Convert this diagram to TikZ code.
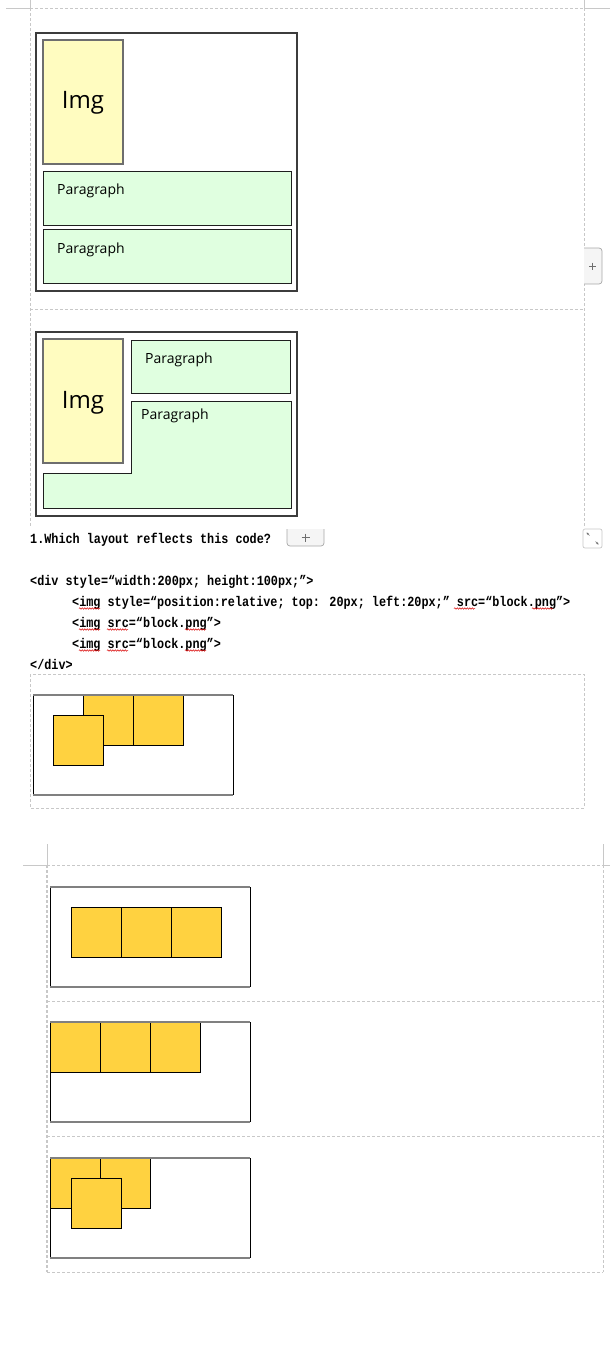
\documentclass[tikz,border=0pt]{standalone}
\usepackage{fontspec}
\setmainfont{Open Sans}
\newfontfamily\codefont{Liberation Mono}[FakeStretch=0.843]
\usetikzlibrary{decorations.pathmorphing,arrows.meta}
\definecolor{pagegrey}{RGB}{200,200,200}
\definecolor{imgc}{RGB}{255,252,192}
\definecolor{imgedge}{RGB}{110,110,110}
\definecolor{parc}{RGB}{224,255,224}
\definecolor{darkedge}{RGB}{60,60,60}
\definecolor{blockc}{RGB}{255,210,64}
\definecolor{contgrey}{RGB}{128,128,128}
\definecolor{btnfill}{RGB}{245,245,245}
\definecolor{btnedge}{RGB}{168,168,168}
\definecolor{plusgrey}{RGB}{110,110,110}
\tikzset{
  pagedash/.style={draw=pagegrey, line width=0.9pt, dash pattern=on 3pt off 2pt},
  pagesolid/.style={draw=pagegrey, line width=0.9pt},
  outerbox/.style={draw=darkedge, line width=1.2pt, fill=white},
  imgbox/.style={fill=imgc, draw=imgedge, line width=1.2pt},
  parbox/.style={fill=parc, draw=black!88, line width=0.9pt},
  blockbox/.style={fill=blockc, draw=black, line width=0.8pt},
  contside/.style={draw=black, line width=0.9pt},
  contedge/.style={draw=contgrey, line width=1.8pt},
  squig/.style={draw=red!85!black, line width=0.5pt, decorate, decoration={snake, amplitude=0.7pt, segment length=2.5pt}},
  btn/.style={fill=btnfill, draw=btnedge, line width=0.7pt},
  plusmark/.style={draw=plusgrey, line width=0.7pt},
  iconarrow/.style={draw=plusgrey, line width=0.6pt, -{Stealth[length=2.4pt,width=2.4pt]}},
  imglabel/.style={font=\fontsize{24}{28}\selectfont, inner sep=0pt, anchor=base},
  plabel/.style={font=\fontsize{14}{17}\selectfont, inner sep=0pt, anchor=base west},
  codetext/.style={font=\codefont\bfseries\fontsize{14}{17}\selectfont, inner sep=0pt, anchor=base west}
}
\begin{document}
\begin{tikzpicture}[x=1pt,y=-1pt]
\useasboundingbox (0,0) rectangle (610,1360);
\fill[white] (0,0) rectangle (610,1360);

% ---------- page frame, sections 1-2 ----------
\draw[pagesolid] (6,8) -- (30,8);
\draw[pagesolid] (584,8) -- (610,8);
\draw[pagesolid] (30,0) -- (30,8);
\draw[pagesolid] (584,0) -- (584,8);
\draw[pagedash] (30,8) -- (584,8);
\draw[pagedash] (30,8) -- (30,527);
\draw[pagedash] (584,8) -- (584,527);
\draw[pagedash] (30,309) -- (584,309);

% plus button at the right edge
\draw[btn] (584,248) -- (599,248) arc(-90:0:3) -- (602,281) arc(0:90:3) -- (584,284);
\draw[plusmark] (589,266) -- (596,266);
\draw[plusmark] (592.5,262.5) -- (592.5,269.5);

% ---------- diagram 1 ----------
\draw[outerbox] (36,33) rectangle (297,291);
\draw[imgbox] (43,40) rectangle (123,164);
\draw[parbox] (43,171) rectangle (291,225);
\draw[parbox] (43,229) rectangle (291,283);
\node[imglabel] (img1) at (83,108) {Img};
\node[plabel] (p1a) at (57,194) {Paragraph};
\node[plabel] (p1b) at (57,253) {Paragraph};

% ---------- diagram 2 ----------
\draw[outerbox] (36,332) rectangle (297,516);
\draw[imgbox] (43,339) rectangle (123,463);
\draw[parbox] (131,340) rectangle (290,393);
\draw[parbox] (131,401) -- (291,401) -- (291,508) -- (43,508) -- (43,473) -- (131,473) -- cycle;
\node[imglabel] (img2) at (83,408) {Img};
\node[plabel] (p2a) at (145,363) {Paragraph};
\node[plabel] (p2b) at (141,419) {Paragraph};

% ---------- question ----------
\node[codetext] (title) at (30,543) {1.Which layout reflects this code?};
\draw[btn] (287,529) -- (287,543) arc(180:90:3) -- (321,546) arc(90:0:3) -- (324,529);
\draw[plusmark] (301.5,537.5) -- (309.5,537.5);
\draw[plusmark] (305.5,533.5) -- (305.5,541.5);
% expand icon
\draw[draw=pagegrey, fill=white, line width=0.7pt, rounded corners=2pt] (583,529) rectangle (602,548);
\draw[iconarrow] (589.5,535.5) -- (586.5,532.5);
\draw[iconarrow] (595.5,541.5) -- (598.5,544.5);

% ---------- code ----------
\node[codetext] (c1) at (30,585) {<div style=“width:200px; height:100px;”>};
\node[codetext] (c2) at (72,606) {<img style=“position:relative; top: 20px; left:20px;” src=“block.png”>};
\node[codetext] (c3) at (72,627) {<img src=“block.png”>};
\node[codetext] (c4) at (72,648) {<img src=“block.png”>};
\node[codetext] (c5) at (30,669) {</div>};
\draw[squig] (79,608.5) -- (100,608.5);
\draw[squig] (454,608.5) -- (475,608.5);
\draw[squig] (532,608.5) -- (553,608.5);
\draw[squig] (79,629.5) -- (100,629.5);
\draw[squig] (107,629.5) -- (128,629.5);
\draw[squig] (185,629.5) -- (206,629.5);
\draw[squig] (79,650.5) -- (100,650.5);
\draw[squig] (107,650.5) -- (128,650.5);
\draw[squig] (185,650.5) -- (206,650.5);

% ---------- rendered answer ----------
\draw[pagedash] (30,674) rectangle (584,808);
\fill[white] (33,695) rectangle (233,795);
\draw[contside] (33,695) -- (33,795);
\draw[contside] (233,695) -- (233,795);
\draw[blockbox] (83,695) rectangle (133,745);
\draw[blockbox] (133,695) rectangle (183,745);
\draw[blockbox] (53,715) rectangle (103,765);
\draw[contedge] (33,695) -- (233,695);
\draw[contedge] (33,795) -- (233,795);

% ---------- page frame, section 4 ----------
\draw[pagesolid] (23,865) -- (47,865);
\draw[pagesolid] (603,865) -- (610,865);
\draw[pagesolid] (47,844) -- (47,865);
\draw[pagesolid] (603,844) -- (603,865);
\draw[pagedash] (47,865) -- (603,865);
\draw[pagedash, line width=1.4pt] (47,865) -- (47,1272);
\draw[pagedash] (603,865) -- (603,1272);
\draw[pagedash] (47,1001) -- (603,1001);
\draw[pagedash] (47,1136) -- (603,1136);
\draw[pagedash] (47,1272) -- (603,1272);

% option A
\fill[white] (50,887) rectangle (250,987);
\draw[contside] (50,887) -- (50,987);
\draw[contside] (250,887) -- (250,987);
\draw[blockbox] (71,907) rectangle (121,957);
\draw[blockbox] (121,907) rectangle (171,957);
\draw[blockbox] (171,907) rectangle (221,957);
\draw[contedge] (50,887) -- (250,887);
\draw[contedge] (50,987) -- (250,987);

% option B
\fill[white] (50,1022) rectangle (250,1122);
\draw[contside] (50,1022) -- (50,1122);
\draw[contside] (250,1022) -- (250,1122);
\draw[blockbox] (50,1022) rectangle (100,1072);
\draw[blockbox] (100,1022) rectangle (150,1072);
\draw[blockbox] (150,1022) rectangle (200,1072);
\draw[contedge] (50,1022) -- (250,1022);
\draw[contedge] (50,1122) -- (250,1122);

% option C
\fill[white] (50,1158) rectangle (250,1258);
\draw[contside] (50,1158) -- (50,1258);
\draw[contside] (250,1158) -- (250,1258);
\draw[blockbox] (50,1158) rectangle (100,1208);
\draw[blockbox] (100,1158) rectangle (150,1208);
\draw[blockbox] (71,1178) rectangle (121,1228);
\draw[contedge] (50,1158) -- (250,1158);
\draw[contedge] (50,1258) -- (250,1258);
\end{tikzpicture}
\end{document}
